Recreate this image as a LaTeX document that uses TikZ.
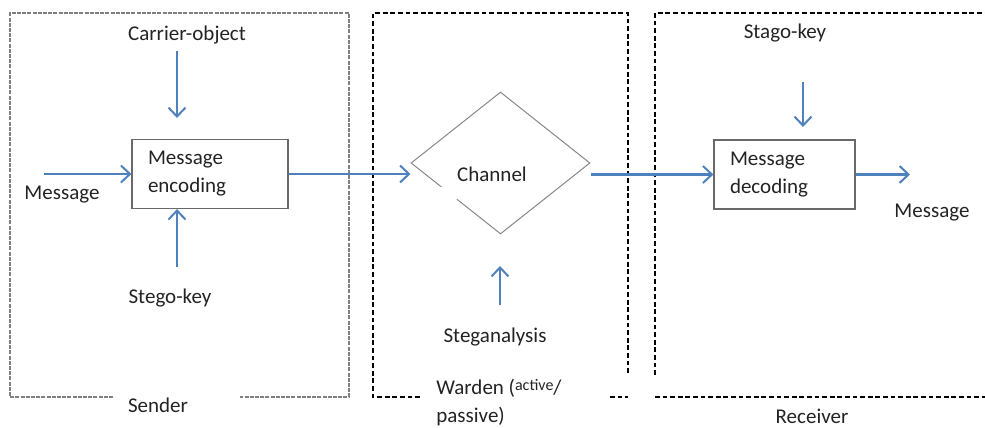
\documentclass[tikz,border=0pt]{standalone}
\usepackage{fontspec}
\setmainfont{Carlito}
\usetikzlibrary{
  arrows.meta,
  positioning,
  shapes.geometric,
  calc
}
\definecolor{flowblue}{RGB}{79,129,189}
\definecolor{edgegray}{RGB}{105,105,105}
\definecolor{inkgray}{RGB}{35,35,35}

\begin{document}
\begin{tikzpicture}[x=0.5pt, y=-0.5pt,
  every node/.style={font=\fontsize{10.5}{14}\selectfont, text=inkgray},
  flow/.style={draw=flowblue, line width=1.1pt,
               -{Straight Barb[length=4.5pt, width=8.5pt, line width=1pt]}},
  block/.style={draw=edgegray, line width=0.6pt, align=left,
                minimum height=34.5pt, inner xsep=8pt},
  senderline/.style={draw=gray, line width=0.6pt, dash pattern=on 2pt off 0.6pt},
  wardenline/.style={draw=black, line width=0.7pt, dash pattern=on 2.4pt off 1.4pt},
]
\useasboundingbox (0,0) rectangle (985,428);

\draw[senderline] (113,397) -| (10,13) -| (349,397) -- (240,397);
\draw[wardenline] (420,397) -| (373,13) -| (628,375);
\draw[wardenline] (610,397) -- (628,397);
\draw[wardenline] (655,375) |- (985,13);
\draw[wardenline] (655,397) -- (985,397);

\node[block, minimum width=78pt, text width=62pt] (enc) at (210,174) {Message\\encoding};
\node[block, minimum width=70.5pt, text width=54.5pt] (dec) at (784.5,174.5) {Message\\decoding};
\node[diamond, draw=edgegray!80, line width=0.5pt, minimum width=89.5pt,
      minimum height=71pt, inner sep=0pt] (ch) at (500.5,163) {};
\draw[white, line width=2pt] ($(ch.west)!0.34!(ch.south)$) -- ($(ch.west)!0.51!(ch.south)$);

\node (carrier) at (187,35) {Carrier-object};
\node (msgleft) at (62,195) {Message};
\node (skey) at (170,298) {Stego-key};
\node (sender) at (158,405) {Sender};
\node (chlabel) at (492,174) {Channel};
\node (stegan) at (495,337) {Steganalysis};
\node[anchor=north west, align=left, inner sep=0pt] (warden) at (436,379)
  {Warden (\raisebox{2pt}{\fontsize{8}{9}\selectfont active}/\\passive)};
\node (rkey) at (785,33) {Stago-key};
\node (msgright) at (932,213) {Message};
\node (receiver) at (812,416) {Receiver};

\coordinate (cartail) at (177,51);
\coordinate (carhead) at (177,118);
\coordinate (keytail) at (177,267);
\coordinate (msgtail) at (44,174);
\coordinate (satail) at (500,305);
\coordinate (sahead) at (500,266);
\coordinate (rkeytail) at (803,82);
\coordinate (rkeyhead) at (803,127);
\coordinate (outhead) at (910,174.5);

\draw[flow] (cartail) -- (carhead);
\draw[flow] (keytail) -- (keytail |- enc.south);
\draw[flow] (msgtail) -- (enc.west);
\draw[flow] (enc.east) -- (enc.east -| ch.west);
\draw[flow] (ch.east |- dec.west) -- (dec.west);
\draw[flow] (satail) -- (sahead);
\draw[flow] (rkeytail) -- (rkeyhead);
\draw[flow] (dec.east) -- (outhead);

\end{tikzpicture}
\end{document}
